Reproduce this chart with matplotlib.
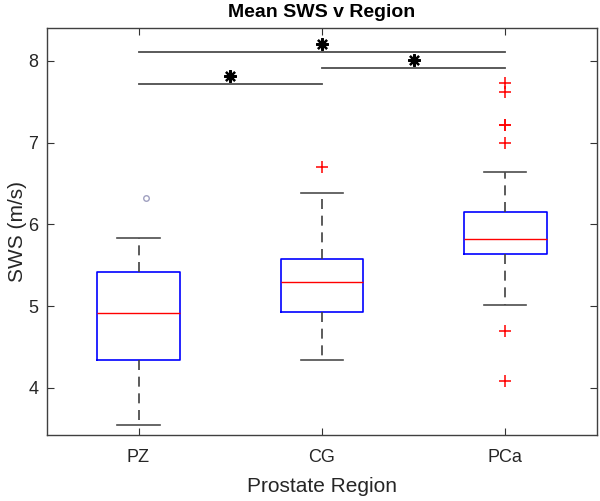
import numpy as np
import matplotlib.pyplot as plt

plt.rcParams['font.family'] = ['Liberation Sans', 'DejaVu Sans']

regions = ['PZ', 'CG', 'PCa']
q1 = [4.34, 4.93, 5.64]
med = [4.92, 5.30, 5.815]
q3 = [5.42, 5.58, 6.15]
whislo = [3.55, 4.34, 5.02]
whishi = [5.83, 6.38, 6.64]
fliers = [[], [6.70], [7.73, 7.62, 7.22, 7.21, 7.00, 4.70, 4.09]]

# odd one out in PZ (grey circle)
pz_extra_x = [1.04]
pz_extra_y = [6.32]

# significance bars: (start, end, height)
sig_x1 = [1, 1, 2]
sig_x2 = [3, 2, 3]
sig_y = [8.11, 7.71, 7.91]

fig = plt.figure(figsize=(6, 5.01), dpi=100)
ax = fig.add_axes([0.078, 0.131, 0.917, 0.813])

stats = []
for i in range(3):
    stats.append(dict(q1=q1[i], med=med[i], q3=q3[i], whislo=whislo[i],
                      whishi=whishi[i], fliers=fliers[i], label=regions[i]))

ax.bxp(stats, positions=[1, 2, 3], widths=0.45,
       boxprops=dict(color='blue', linewidth=1.2),
       medianprops=dict(color='red', linewidth=1.0),
       whiskerprops=dict(color='0.25', linewidth=1.2, linestyle=(0, (6, 4))),
       capprops=dict(color='0.3', linewidth=1.2),
       flierprops=dict(marker='+', markeredgecolor='red', markersize=8,
                       markeredgewidth=1.1, linestyle='none'),
       capwidths=0.23)

ax.plot(pz_extra_x, pz_extra_y, 'o', markersize=4, markerfacecolor='none',
        markeredgecolor='#a0a0c0', markeredgewidth=1.0)

for a, b, h in zip(sig_x1, sig_x2, sig_y):
    ax.plot([a, b], [h, h], color='0.3', linewidth=1.3)
    ax.plot([(a + b) / 2], [h + 0.1], marker=(8, 2, 0), color='black',
            markersize=9, markeredgewidth=1.6)

ax.set_xlim(0.5, 3.5)
ax.set_ylim(3.42, 8.40)
ax.set_yticks([4, 5, 6, 7, 8])
ax.set_xticks([1, 2, 3])
ax.set_xticklabels(regions)
ax.tick_params(direction='in', top=True, right=True, length=5,
               labelsize=13, color='0.2', labelcolor='0.15')
ax.tick_params(axis='x', pad=10)
ax.tick_params(axis='y', pad=6)
for s in ax.spines.values():
    s.set_color('0.25')
    s.set_linewidth(1.0)

ax.set_xlabel('Prostate Region', fontsize=15, color='0.15', labelpad=8)
ax.set_ylabel('SWS (m/s)', fontsize=15, color='0.15', labelpad=1)
ax.set_title('Mean SWS v Region', fontsize=14, fontweight='bold', pad=8)

fig.savefig('out.png')
